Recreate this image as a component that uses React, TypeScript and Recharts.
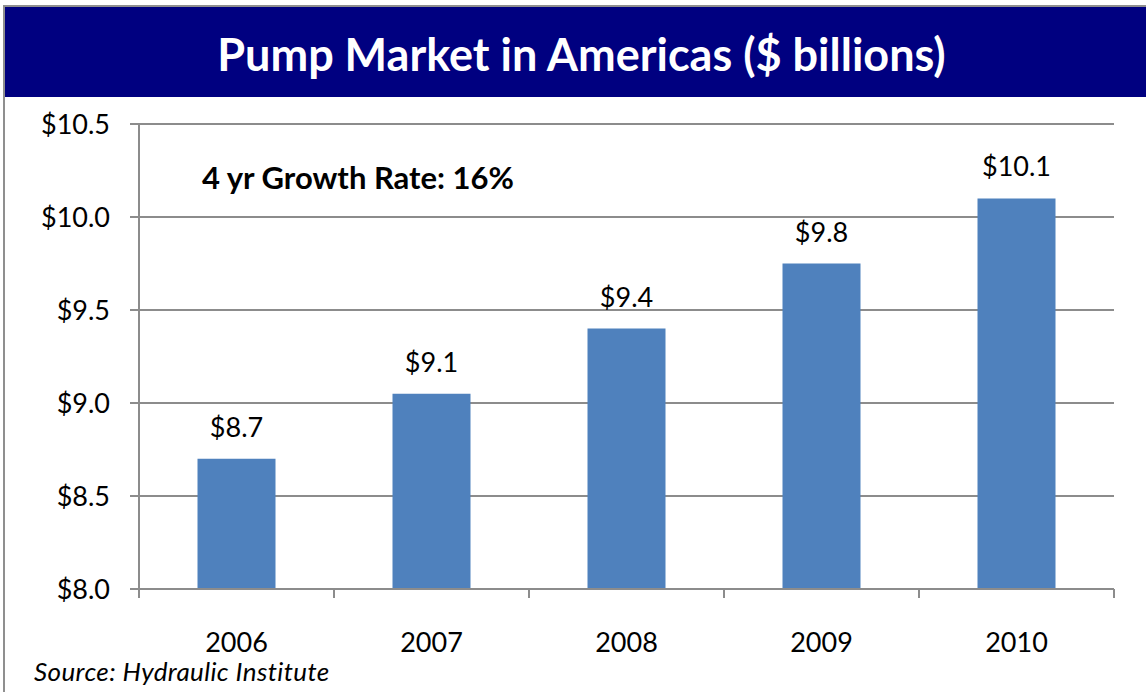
import React from "react";
import {
  BarChart,
  Bar,
  XAxis,
  YAxis,
  CartesianGrid,
  LabelList,
} from "recharts";

const years = ["2006", "2007", "2008", "2009", "2010"];
const marketValues = [8.7, 9.05, 9.4, 9.75, 10.1];
const yTicks = [8.0, 8.5, 9.0, 9.5, 10.0, 10.5];

const data = years.map((year, i) => ({ year, value: marketValues[i] }));

const W = 1146;
const H = 692;
const PLOT_LEFT = 139;
const PLOT_RIGHT = 1114;
const BAND = (PLOT_RIGHT - PLOT_LEFT) / years.length;
const GRAY = "#8c8c8c";
const FONT = "Lato, 'Open Sans', sans-serif";

// excel style: ticks sit between categories, label in the middle
const XTick = (props: any) => {
  const { x, y, payload, index } = props;
  const half = BAND / 2;
  return (
    <g>
      <line x1={x - half} x2={x - half} y1={y} y2={y + 9} stroke={GRAY} strokeWidth={2} />
      {index === years.length - 1 && (
        <line x1={x + half} x2={x + half} y1={y} y2={y + 9} stroke={GRAY} strokeWidth={2} />
      )}
      <text x={x} y={y + 63} textAnchor="middle" fontSize={27} fontFamily={FONT} fill="#000">
        {payload.value}
      </text>
    </g>
  );
};

export default function App() {
  return (
    <div
      style={{
        position: "absolute",
        left: 0,
        top: 0,
        width: W,
        height: H,
        overflow: "hidden",
        background: "#fff",
        fontFamily: FONT,
      }}
    >
      {/* frame */}
      <div
        style={{
          position: "absolute",
          left: 3,
          top: 5,
          width: W + 20,
          height: H + 20,
          border: "2px solid #8f8f8f",
          boxSizing: "border-box",
        }}
      />
      {/* title band */}
      <div
        style={{
          position: "absolute",
          left: 5,
          top: 7,
          width: W - 5,
          height: 90,
          background: "#000080",
          color: "#fff",
          fontWeight: 700,
          fontSize: 45,
          display: "flex",
          alignItems: "center",
          justifyContent: "center",
          paddingLeft: 12,
          paddingTop: 4,
          boxSizing: "border-box",
          whiteSpace: "nowrap",
        }}
      >
        Pump Market in Americas ($ billions)
      </div>

      <div style={{ position: "absolute", left: 0, top: 0 }}>
        <BarChart
          width={W}
          height={H}
          data={data}
          margin={{ top: 124, right: W - PLOT_RIGHT, bottom: 43, left: 0 }}
          barCategoryGap="30%"
        >
          <CartesianGrid vertical={false} stroke={GRAY} strokeWidth={2} />
          <XAxis
            dataKey="year"
            height={60}
            tickSize={0}
            tickMargin={0}
            axisLine={{ stroke: GRAY, strokeWidth: 2 }}
            tickLine={false}
            tick={<XTick />}
            interval={0}
          />
          <YAxis
            width={PLOT_LEFT}
            domain={[8, 10.5]}
            ticks={yTicks}
            interval={0}
            tickSize={9}
            tickMargin={20}
            axisLine={{ stroke: GRAY, strokeWidth: 2 }}
            tickLine={{ stroke: GRAY, strokeWidth: 2 }}
            tick={{ fill: "#000", fontSize: 27, fontFamily: FONT }}
            tickFormatter={(v: number) => `$${v.toFixed(1)}`}
            allowDataOverflow
          />
          <Bar dataKey="value" fill="#4f81bd" isAnimationActive={false}>
            <LabelList
              dataKey="value"
              position="top"
              offset={22}
              fill="#000"
              fontSize={27}
              fontFamily={FONT}
              formatter={(v: any) => `$${Number(v).toFixed(1)}`}
            />
          </Bar>
        </BarChart>
      </div>

      <div
        style={{
          position: "absolute",
          left: 202,
          top: 158,
          fontWeight: 700,
          fontSize: 31,
          color: "#000",
          whiteSpace: "nowrap",
        }}
      >
        4 yr Growth Rate: 16%
      </div>

      <div
        style={{
          position: "absolute",
          left: 34,
          top: 656,
          fontStyle: "italic",
          fontSize: 26,
          lineHeight: "30px",
          letterSpacing: 0.4,
          color: "#000",
          whiteSpace: "nowrap",
        }}
      >
        Source: Hydraulic Institute
      </div>
    </div>
  );
}
